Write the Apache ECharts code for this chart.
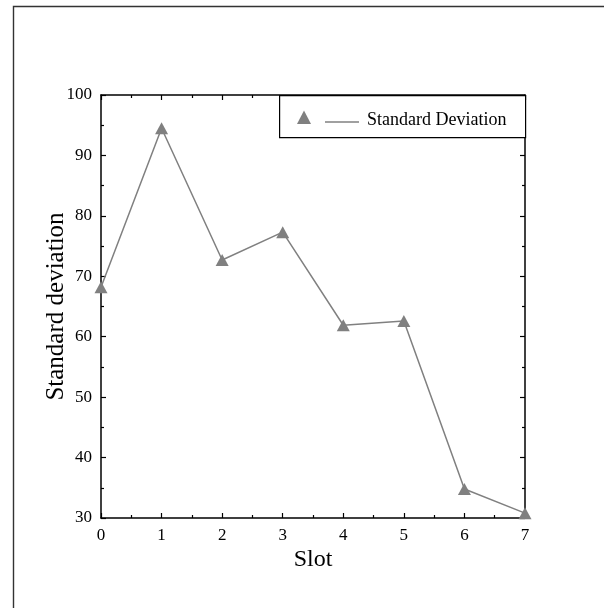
<!DOCTYPE html>
<html>
<head>
<meta charset="utf-8">
<script src="https://cdn.jsdelivr.net/npm/echarts@6/dist/echarts.min.js"></script>
<style>
  html, body { margin: 0; padding: 0; background: #fff; }
  #chart { width: 604px; height: 608px; }
</style>
</head>
<body>
<div id="chart"></div>
<script>
// Slot indices and the standard deviation measured in each slot
const slots = [0, 1, 2, 3, 4, 5, 6, 7];
const stdDev = [68.2, 94.5, 72.7, 77.3, 61.9, 62.6, 34.8, 30.8];
const seriesName = 'Standard Deviation';
const xTitle = 'Slot';
const yTitle = 'Standard deviation';

const serif = '"Liberation Serif", "DejaVu Serif", serif';
const grey = '#808080';

const points = slots.map((s, i) => [s, stdDev[i]]);

const chart = echarts.init(document.getElementById('chart'), null, { renderer: 'canvas' });

const baseAxis = {
  axisLine: { show: true, onZero: false, lineStyle: { color: '#000', width: 1.5 } },
  axisTick: { show: true, inside: true, length: 5, lineStyle: { color: '#000', width: 1.2 } },
  minorTick: { show: true, splitNumber: 2, length: 3, lineStyle: { color: '#000', width: 1.2 } },
  splitLine: { show: false },
  minorSplitLine: { show: false }
};

chart.setOption({
  animation: false,
  backgroundColor: '#fff',
  grid: { left: 101, top: 95, width: 424, height: 423, containLabel: false },
  xAxis: [
    Object.assign({}, baseAxis, {
      type: 'value', min: 0, max: 7, interval: 1, position: 'bottom',
      name: xTitle, nameLocation: 'middle', nameGap: 30, nameMoveOverlap: false,
      nameTextStyle: { fontFamily: serif, fontSize: 24, color: '#000' },
      axisLabel: { show: true, fontFamily: serif, fontSize: 17, color: '#000', margin: 9 }
    }),
    Object.assign({}, baseAxis, {
      type: 'value', min: 0, max: 7, interval: 1, position: 'top',
      axisLabel: { show: false }
    })
  ],
  yAxis: [
    Object.assign({}, baseAxis, {
      type: 'value', min: 30, max: 100, interval: 10, position: 'left',
      name: yTitle, nameLocation: 'middle', nameGap: 32, nameMoveOverlap: false,
      nameTextStyle: { fontFamily: serif, fontSize: 25, color: '#000' },
      axisLabel: { show: true, fontFamily: serif, fontSize: 17, color: '#000', margin: 9 }
    }),
    Object.assign({}, baseAxis, {
      type: 'value', min: 30, max: 100, interval: 10, position: 'right',
      axisLabel: { show: false }
    })
  ],
  series: [{
    name: seriesName,
    type: 'line',
    data: points,
    symbol: 'triangle',
    symbolSize: [13, 12],
    clip: false,
    lineStyle: { color: grey, width: 1.5 },
    itemStyle: { color: grey },
    z: 3
  }],
  graphic: [
    // page frame
    { type: 'rect', left: 11, top: 4, shape: { width: 700, height: 700 },
      style: { fill: null, stroke: '#333', lineWidth: 1.4 }, silent: true },
    // legend box
    { type: 'rect', left: 279, top: 95, shape: { width: 246, height: 42 },
      style: { fill: '#fff', stroke: '#000', lineWidth: 1.2 }, z: 10 },
    { type: 'polygon', shape: { points: [[304, 110.5], [297, 124], [311, 124]] },
      style: { fill: grey }, z: 11 },
    { type: 'line', shape: { x1: 325, y1: 122, x2: 359, y2: 122 },
      style: { stroke: grey, lineWidth: 1.5 }, z: 11 },
    { type: 'text', x: 367, y: 120,
      style: { text: seriesName, font: '18px ' + serif, fill: '#000', verticalAlign: 'middle', align: 'left' }, z: 11 }
  ]
});
</script>
</body>
</html>
